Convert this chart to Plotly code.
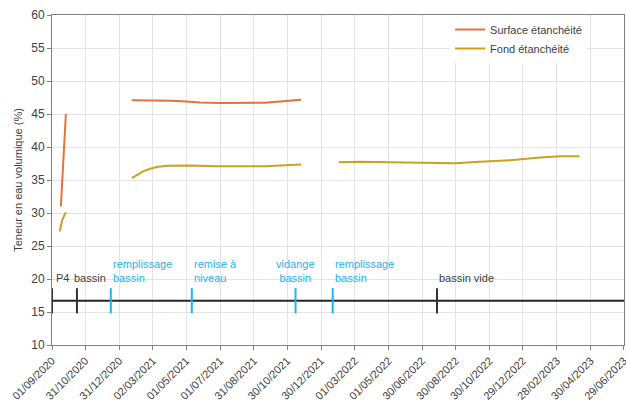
import plotly.graph_objects as go

# ---- data ----
surface_dates = ["2020-09-17", "2020-09-26", None,
                 "2021-01-23", "2021-02-25", "2021-04-02", "2021-04-25", "2021-05-26",
                 "2021-07-01", "2021-08-15", "2021-09-20", "2021-10-17", "2021-11-24"]
surface_vals = [31.0, 45.0, None,
                47.1, 47.0, 47.0, 46.95, 46.75, 46.65, 46.65, 46.7, 46.9, 47.15]

fond_dates = ["2020-09-15", "2020-09-19", "2020-09-23", "2020-09-26", None,
              "2021-01-23", "2021-02-01", "2021-02-12", "2021-02-25", "2021-03-11",
              "2021-03-29", "2021-05-08", "2021-06-22", "2021-08-06", "2021-09-20",
              "2021-11-24", None,
              "2022-01-31", "2022-03-10", "2022-05-03", "2022-06-26", "2022-08-28",
              "2022-10-12", "2022-12-06", "2023-01-29", "2023-03-06", "2023-04-10"]
fond_vals = [27.2, 28.8, 29.6, 30.1, None,
             35.3, 35.8, 36.3, 36.7, 37.0, 37.15, 37.2, 37.1, 37.05, 37.1, 37.35, None,
             37.7, 37.75, 37.7, 37.6, 37.55, 37.75, 38.0, 38.4, 38.6, 38.6]

event_dates = ["2020-09-01", "2020-10-16", "2020-12-16", "2021-05-11",
               "2021-11-14", "2022-01-20", "2022-07-27"]
event_labels = ["P4", "bassin", "remplissage<br>bassin", "remise à<br>niveau",
                "vidange<br>bassin", "remplissage<br>bassin", "bassin vide"]
event_kind = ["black", "black", "blue", "blue", "blue", "blue", "black"]

timeline_level = 16.7
label_level = 18.9

x_range = ["2020-09-01", "2023-06-29 02:00"]
tick_dates = ["2020-09-01", "2020-10-31", "2020-12-31", "2021-03-02", "2021-05-01",
              "2021-07-01", "2021-08-31", "2021-10-30", "2021-12-30", "2022-03-01",
              "2022-05-01", "2022-06-30", "2022-08-30", "2022-10-30", "2022-12-29",
              "2023-02-28", "2023-04-30", "2023-06-29"]
tick_labels = ["01/09/2020", "31/10/2020", "31/12/2020", "02/03/2021", "01/05/2021",
               "01/07/2021", "31/08/2021", "30/10/2021", "30/12/2021", "01/03/2022",
               "01/05/2022", "30/06/2022", "30/08/2022", "30/10/2022", "29/12/2022",
               "28/02/2023", "30/04/2023", "29/06/2023"]

# ---- style ----
ORANGE = "#E2733A"
GOLD = "#C9A21E"
BLUE = "#1FB3EF"
TXT = "#404040"
colors = {"black": "#333333", "blue": BLUE}

fig = go.Figure()

fig.add_trace(go.Scatter(x=surface_dates, y=surface_vals, mode="lines",
                         name="Surface étanchéité", line=dict(color=ORANGE, width=2),
                         connectgaps=False))
fig.add_trace(go.Scatter(x=fond_dates, y=fond_vals, mode="lines",
                         name="Fond étanchéité", line=dict(color=GOLD, width=2),
                         connectgaps=False))

# timeline
fig.add_trace(go.Scatter(x=x_range, y=[timeline_level, timeline_level], mode="lines",
                         line=dict(color="#262626", width=2), showlegend=False,
                         hoverinfo="skip", cliponaxis=False))
fig.add_trace(go.Scatter(x=event_dates, y=[timeline_level] * len(event_dates),
                         mode="markers", showlegend=False, cliponaxis=False,
                         marker=dict(symbol="line-ns", size=18,
                                     line=dict(width=2, color=[colors[k] for k in event_kind]))))

xshift = [2, -5, 0, 0, 0, 0, 0]
xanchor = ["left", "left", "left", "left", "center", "left", "left"]
for d, lab, k, xs, xa in zip(event_dates, event_labels, event_kind, xshift, xanchor):
    fig.add_annotation(x=d, y=label_level, text=lab, showarrow=False,
                       xanchor=xa, yanchor="bottom", align="left" if xa == "left" else "center",
                       xshift=xs, font=dict(size=11, color=colors[k] if k == "blue" else TXT))

fig.update_layout(
    width=626, height=407,
    margin=dict(l=52, r=2, t=15, b=62, autoexpand=False),
    paper_bgcolor="white", plot_bgcolor="white",
    font=dict(family="Liberation Sans, Arial, sans-serif", size=11, color=TXT),
    showlegend=True,
    legend=dict(x=0.696, y=1.0, xanchor="left", yanchor="top", bgcolor="white",
                font=dict(size=11, color=TXT), tracegroupgap=0),
)
fig.update_xaxes(type="date", range=x_range, tickvals=tick_dates, ticktext=tick_labels,
                 tickangle=-45, showgrid=True, gridcolor="#E3E3E3", gridwidth=1,
                 showline=True, linecolor="#808080", linewidth=1, mirror=True,
                 ticks="outside", ticklen=4, tickcolor="#808080", automargin=False,
                 ticklabeloverflow="allow",
                 tickfont=dict(size=11, color=TXT), zeroline=False)
fig.update_yaxes(range=[10, 60], dtick=5, showgrid=True, gridcolor="#E3E3E3", gridwidth=1,
                 showline=True, linecolor="#808080", linewidth=1, mirror=True,
                 ticks="outside", ticklen=4, tickcolor="#808080", automargin=False,
                 tickfont=dict(size=12, color=TXT), zeroline=False,
                 title=dict(text="Teneur en eau volumique (%)", font=dict(size=11, color=TXT),
                            standoff=6))

fig.write_html("out.html", config={"displayModeBar": False},
               post_script="document.body.style.margin='0';document.body.style.overflow='hidden';")
